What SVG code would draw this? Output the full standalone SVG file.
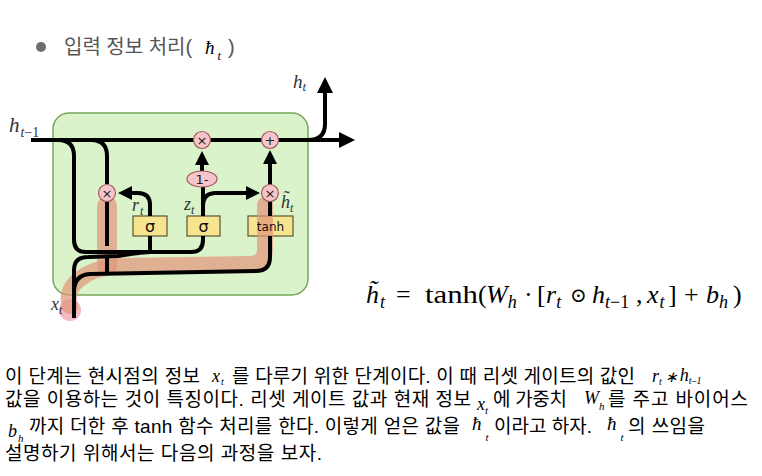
<svg xmlns="http://www.w3.org/2000/svg" width="762" height="476" viewBox="0 0 762 476">
<defs>
<marker id="arrL" viewBox="0 0 16 16" refX="1" refY="8" markerWidth="16" markerHeight="16" markerUnits="userSpaceOnUse" orient="auto"><path d="M0,0 L16,8 L0,16 z" fill="#000"/></marker>
<marker id="arrS" viewBox="0 0 14 14" refX="1" refY="7" markerWidth="14" markerHeight="14" markerUnits="userSpaceOnUse" orient="auto"><path d="M0,0 L14,7 L0,14 z" fill="#000"/></marker>
</defs>
<style>
.ln{fill:none;stroke:#000;stroke-width:4;stroke-linejoin:round}
.op{fill:#f6c5cb;stroke:#a05a5a;stroke-width:1.2}
.bx{fill:#f7e48e;stroke:#5b5533;stroke-width:1.2}
.sym{font-family:"DejaVu Sans",sans-serif;font-size:13px;text-anchor:middle;fill:#222}
.bt{font-family:"DejaVu Sans",sans-serif;text-anchor:middle;fill:#111}
.lb{font-family:"Liberation Serif",serif;font-style:italic;fill:#333}
.up{font-style:normal}
.kr{font-family:"Liberation Sans","Noto Sans CJK KR",sans-serif;font-size:19px;fill:#000}
.mi{font-family:"Liberation Serif",serif;font-style:italic;fill:#000}
.fm{font-family:"Liberation Serif","DejaVu Serif",serif;fill:#000}
.band{fill:none;stroke:#e1957c;stroke-opacity:0.72;stroke-linecap:round;stroke-linejoin:round}
</style>
<rect width="762" height="476" fill="#fff"/>

<g id="title">
<circle cx="41" cy="47" r="5" fill="#6e6e6e"/>
<text x="64" y="54" font-family="Liberation Sans,'Noto Sans CJK KR',sans-serif" font-size="20" fill="#555">입력 정보 처리(</text>
<text class="mi" x="205" y="54" font-size="19">ħ<tspan dx="3" dy="6" font-size="12">t</tspan></text>
<text x="228" y="54" font-family="Liberation Sans,sans-serif" font-size="20" fill="#555">)</text>
</g>

<g id="cell">
<rect x="53" y="113" width="255" height="182" rx="16" fill="#dbf3cb" stroke="#7aa65c" stroke-width="1.5"/>
</g>

<g id="sigma_r"><rect class="bx" x="133" y="216" width="34" height="20"/></g>
<g id="sigma_z"><rect class="bx" x="187" y="216" width="33" height="20"/></g>
<g id="tanh"><rect class="bx" x="248" y="216" width="45" height="20"/></g>

<g id="highlight">
<circle cx="70" cy="310" r="11" fill="#f5aab5" fill-opacity="0.85"/>
<path class="band" stroke-width="16" d="M70,306 C63,286 85,268 120,266 L250,264 Q265,264 265,249 L265,205"/>
<path class="band" stroke-width="20" d="M107,206 L107,266"/>
</g>

<g id="connectors">
<path class="ln" d="M31,140 L340,140" marker-end="url(#arrL)"/>
<path class="ln" d="M308,140 Q325,140 325,124 L325,92" marker-end="url(#arrL)"/>
<path class="ln" d="M58,140 Q74,140 74,156 L74,240 Q74,252 86,252 L191,252 Q203,252 203,240 L203,236"/>
<path class="ln" d="M150,236 L150,252"/>
<path class="ln" d="M91,140 Q107,140 107,156 L107,184"/>
<path class="ln" d="M107,202 L107,246"/>
<path class="ln" d="M107,258 L107,272"/>
<path class="ln" d="M74,318 L74,270 Q74,257 88,257 L118,256 Q134,253 150,252"/>
<path class="ln" d="M74,292 Q74,275 90,274 L256,271 Q270,271 270,257 L270,236"/>
<path class="ln" d="M150,216 L150,205 Q150,193 138,193 L131,193" marker-end="url(#arrS)"/>
<path class="ln" d="M203,216 L203,187"/>
<path class="ln" d="M203,206 Q203,193 216,193 L247,193" marker-end="url(#arrS)"/>
<path class="ln" d="M202,171 L202,164" marker-end="url(#arrS)"/>
<path class="ln" d="M270,216 L270,201"/>
<path class="ln" d="M270,185 L270,163" marker-end="url(#arrS)"/>
</g>

<g id="op_mul_top"><circle class="op" cx="202" cy="140" r="8.5"/><text class="sym" x="202" y="145">×</text></g>
<g id="op_add"><circle class="op" cx="270" cy="140" r="8.5"/><text class="sym" x="270" y="145">+</text></g>
<g id="op_oneminus"><ellipse class="op" cx="202" cy="179" rx="15" ry="8"/><text class="sym" x="202" y="183.5" font-size="12">1-</text></g>
<g id="op_mul_r"><circle class="op" cx="107" cy="193" r="8.5"/><text class="sym" x="107" y="198">×</text></g>
<g id="op_mul_h"><circle class="op" cx="270" cy="193" r="8.5"/><text class="sym" x="270" y="198">×</text></g>

<g id="box_labels">
<text class="bt" x="150" y="232" font-size="16">σ</text>
<text class="bt" x="203.5" y="232" font-size="16">σ</text>
<text class="bt" x="270.5" y="231" font-size="12">tanh</text>
</g>

<g id="labels">
<text class="lb" x="9" y="132" font-size="21">h<tspan dx="1" dy="5" font-size="14">t</tspan><tspan class="up" font-size="14">−1</tspan></text>
<text class="lb" x="293" y="88" font-size="19">h<tspan dy="3" font-size="13">t</tspan></text>
<text class="lb" x="132" y="211" font-size="18">r<tspan dx="1" dy="4" font-size="12">t</tspan></text>
<text class="lb" x="184" y="210" font-size="18">z<tspan dy="4" font-size="12">t</tspan></text>
<text class="lb" x="281" y="208" font-size="18">h̃<tspan dy="4" font-size="12">t</tspan></text>
<text class="lb" x="51" y="310" font-size="18">x<tspan dy="4" font-size="12">t</tspan></text>
</g>

<g id="formula">
<text class="fm" x="366" y="303" font-size="26" font-style="italic">h̃<tspan dx="1" dy="5" font-size="18">t</tspan></text>
<text class="fm" x="396" y="303" font-size="26">=</text>
<text class="fm" x="425" y="303" font-size="26" textLength="53" lengthAdjust="spacingAndGlyphs">tanh</text>
<text class="fm" x="478" y="303" font-size="26">(</text>
<text class="fm" x="486" y="303" font-size="26" font-style="italic">W<tspan dy="5" font-size="18">h</tspan></text>
<text class="fm" x="524" y="303" font-size="26">·</text>
<text class="fm" x="537" y="303" font-size="26">[</text>
<text class="fm" x="546" y="303" font-size="26" font-style="italic">r<tspan dy="5" font-size="18">t</tspan></text>
<text class="fm" x="570" y="302" font-size="20">⊙</text>
<text class="fm" x="592" y="303" font-size="26" font-style="italic">h<tspan dy="5" font-size="18">t</tspan><tspan font-style="normal" font-size="18">−1</tspan></text>
<text class="fm" x="636" y="303" font-size="26">,</text>
<text class="fm" x="647" y="303" font-size="26" font-style="italic">x<tspan dx="1" dy="5" font-size="18">t</tspan></text>
<text class="fm" x="668" y="303" font-size="26">]</text>
<text class="fm" x="684" y="303" font-size="26">+</text>
<text class="fm" x="706" y="303" font-size="26" font-style="italic">b<tspan dy="5" font-size="18">h</tspan></text>
<text class="fm" x="733" y="303" font-size="26">)</text>
</g>

<g id="paragraph">
<text class="kr" x="5" y="383" textLength="195" lengthAdjust="spacing">이 단계는 현시점의 정보</text>
<text class="mi" x="212" y="382" font-size="18">x<tspan dx="1" dy="3" font-size="10">t</tspan></text>
<text class="kr" x="232" y="383" textLength="403" lengthAdjust="spacing">를 다루기 위한 단계이다. 이 때 리셋 게이트의 값인</text>
<text class="mi" x="652" y="382" font-size="18">r<tspan dy="3" font-size="10">t</tspan><tspan dx="3" dy="-3" font-size="15">∗</tspan><tspan dx="2" dy="-1">h</tspan><tspan dy="3" font-size="10">t–1</tspan></text>

<text class="kr" x="5" y="406" textLength="466" lengthAdjust="spacing">값을 이용하는 것이 특징이다. 리셋 게이트 값과 현재 정보</text>
<text class="mi" x="477" y="410" font-size="18">x<tspan dy="4" font-size="11">t</tspan></text>
<text class="kr" x="493" y="406" textLength="74" lengthAdjust="spacing">에 가중치</text>
<text class="mi" x="584" y="404" font-size="18">W<tspan dy="6" font-size="11">h</tspan></text>
<text class="kr" x="608" y="406" textLength="140" lengthAdjust="spacing">를 주고 바이어스</text>

<text class="mi" x="8" y="437" font-size="18">b<tspan dx="1" dy="5" font-size="11">h</tspan></text>
<text class="kr" x="29" y="433" textLength="431" lengthAdjust="spacing">까지 더한 후 tanh 함수 처리를 한다. 이렇게 얻은 값을</text>
<text class="mi" x="472" y="430" font-size="19">ħ<tspan dx="4" dy="11" font-size="11">t</tspan></text>
<text class="kr" x="494" y="433" textLength="98" lengthAdjust="spacing">이라고 하자.</text>
<text class="mi" x="607" y="430" font-size="19">ħ<tspan dx="4" dy="11" font-size="11">t</tspan></text>
<text class="kr" x="628" y="433" textLength="77" lengthAdjust="spacing">의 쓰임을</text>

<text class="kr" x="5" y="460" textLength="317" lengthAdjust="spacing">설명하기 위해서는 다음의 과정을 보자.</text>
</g>
</svg>
